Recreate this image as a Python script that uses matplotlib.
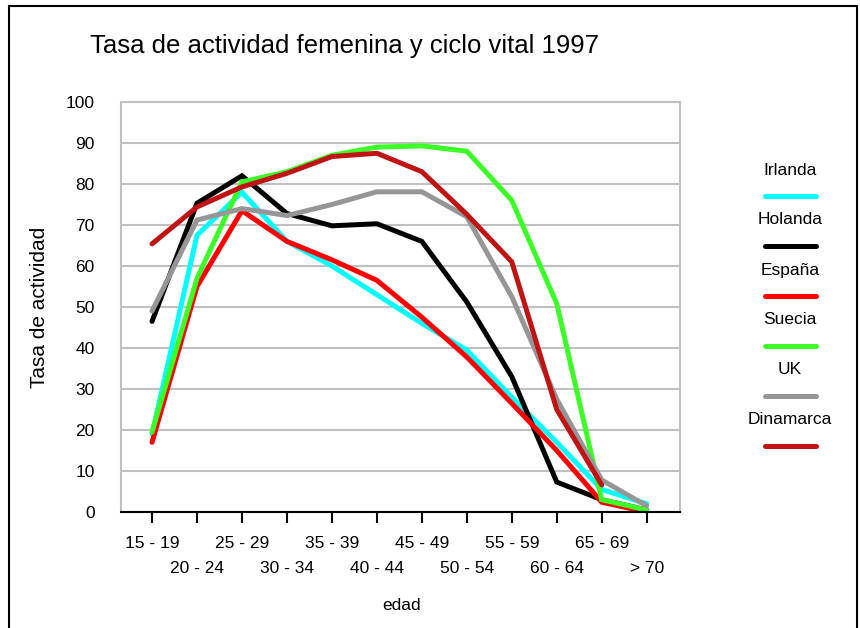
import numpy as np
import matplotlib.pyplot as plt
from matplotlib.lines import Line2D
from matplotlib.patches import Rectangle

plt.rcParams['font.family'] = ['Liberation Sans', 'DejaVu Sans']

edades = ["15 - 19", "20 - 24", "25 - 29", "30 - 34", "35 - 39", "40 - 44",
          "45 - 49", "50 - 54", "55 - 59", "60 - 64", "65 - 69", "> 70"]

irlanda = [19, 67.5, 78, 66, 60, 53, 46, 39.5, 28, 17, 5.5, 2]
holanda = [46.5, 75.3, 82, 72.8, 69.8, 70.3, 66, 51.2, 33, 7.3, 3, 0.5]
espana = [17, 55, 73.5, 66, 61.5, 56.5, 47.5, 37.8, 26.5, 15, 2.4, 0]
suecia = [19.5, 57, 80.5, 83, 87, 89, 89.3, 88, 76, 50.8, 3, 0.5]
uk = [49, 71.2, 74, 72.3, 75, 78.1, 78.1, 72, 52.5, 27.5, 7.8, 1.5]
dinamarca = [65.4, 74.4, 79.3, 82.6, 86.7, 87.5, 83, 72.6, 61, 25, 6.6, np.nan]

series = [("Irlanda", irlanda, "#00FFFF"),
          ("Holanda", holanda, "#000000"),
          ("España", espana, "#FF0000"),
          ("Suecia", suecia, "#3CFF28"),
          ("UK", uk, "#969696"),
          ("Dinamarca", dinamarca, "#C01414")]

fig = plt.figure(figsize=(8.6, 6.28), dpi=100)
ax = fig.add_axes([121 / 860, 1 - 512 / 628, 559 / 860, 410 / 628])

x = np.arange(len(edades))
for name, vals, col in series:
    ax.plot(x, vals, color=col, lw=3.6, solid_capstyle='round', solid_joinstyle='miter', zorder=3)

ax.set_xlim(-0.69, 11.74)
ax.set_ylim(0, 100)
ax.set_yticks(range(0, 101, 10))
ax.yaxis.grid(True, color='#C0C0C0', lw=1.5, zorder=1)
ax.tick_params(axis='y', length=0, pad=19, labelsize=12.5)

ax.set_xticks(x[::2])
ax.set_xticklabels(edades[::2])
ax.set_xticks(x[1::2], minor=True)
ax.set_xticklabels(edades[1::2], minor=True)
ax.tick_params(axis='x', which='major', length=8, width=1.5, pad=9, labelsize=12.5)
ax.tick_params(axis='x', which='minor', length=8, width=1.5, pad=27, labelsize=12.5)

for s in ['left', 'right', 'top']:
    ax.spines[s].set_color('#C0C0C0')
    ax.spines[s].set_linewidth(1.5)
ax.spines['bottom'].set_color('black')
ax.spines['bottom'].set_linewidth(1.5)
ax.spines['bottom'].set_zorder(4)

ax.set_ylabel("Tasa de actividad", fontsize=15, labelpad=12)
fig.text(402 / 860, 1 - 606 / 628, "edad", fontsize=12.5, ha='center', va='center')
fig.text(90 / 860, 1 - 46 / 628, "Tasa de actividad femenina y ciclo vital 1997",
         fontsize=18.5, ha='left', va='center')

# legend: label above a short line sample
for i, (name, vals, col) in enumerate(series):
    ty = 1 - (170 + 50 * i) / 628
    ly = 1 - (196 + 50 * i) / 628
    fig.text(790 / 860, ty, name, fontsize=12.5, ha='center', va='center')
    fig.add_artist(Line2D([765 / 860, 816 / 860], [ly, ly], color=col, lw=3.6,
                          solid_capstyle='round', transform=fig.transFigure))

fig.add_artist(Rectangle((9 / 860, -0.01), 848 / 860, 1.01 - 6 / 628, fill=False,
                         edgecolor='black', lw=1.5, transform=fig.transFigure))

fig.savefig("out.png", dpi=100)
